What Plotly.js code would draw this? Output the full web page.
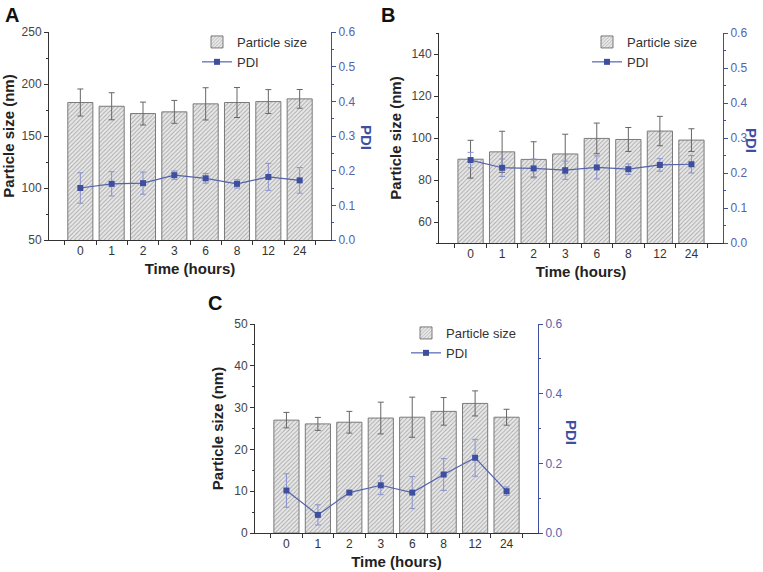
<!DOCTYPE html>
<html>
<head>
<meta charset="utf-8">
<script src="https://cdn.plot.ly/plotly-3.0.1.min.js"></script>
<style>
  body { margin: 0; background: #fff; }
  #chart { width: 763px; height: 572px; }
</style>
</head>
<body>
<div id="chart"></div>
<script>
// time points (hours)
const times = ["0", "1", "2", "3", "6", "8", "12", "24"];

// panel A
const sizeA = [182.2, 178.6, 171.6, 173.2, 180.9, 182.2, 183.1, 185.7];
const sizeErrA = [13, 13, 11, 11, 15.5, 14.4, 11.5, 9];
const pdiA = [0.150, 0.162, 0.164, 0.187, 0.178, 0.162, 0.182, 0.172];
const pdiErrA = [0.044, 0.035, 0.032, 0.012, 0.014, 0.012, 0.039, 0.037];

// panel B
const sizeB = [89.9, 93.4, 89.8, 92.4, 99.8, 99.3, 103.3, 99.0];
const sizeErrB = [9, 9.8, 8.4, 9.4, 7.3, 5.7, 7, 5.4];
const pdiB = [0.237, 0.215, 0.213, 0.208, 0.216, 0.211, 0.223, 0.225];
const pdiErrB = [0.022, 0.025, 0.027, 0.026, 0.033, 0.015, 0.018, 0.025];

// panel C
const sizeC = [27.0, 26.1, 26.5, 27.5, 27.7, 29.1, 31.0, 27.7];
const sizeErrC = [1.85, 1.55, 2.6, 3.8, 4.8, 3.3, 3.0, 1.9];
const pdiC = [0.122, 0.052, 0.116, 0.137, 0.116, 0.168, 0.216, 0.120];
const pdiErrC = [0.048, 0.029, 0.006, 0.027, 0.046, 0.046, 0.053, 0.012];

const W = 763, H = 572;
const blue = "#3f4fa0";
const font = "Liberation Sans, Arial, sans-serif";

const barTrace = (y, err, xa, ya, legend) => ({
	type: "bar",
	x: times,
	y: y,
	xaxis: xa,
	yaxis: ya,
	name: "Particle size",
	legend: legend,
	width: 0.8,
	marker: {
		color: "#e4e4e4",
		line: { color: "#7a7a7a", width: 1 },
		pattern: { shape: "/", fgcolor: "#a8a8a8", bgcolor: "#e8e8e8", size: 3, solidity: 0.3 }
	},
	error_y: { type: "data", array: err, color: "#666", thickness: 1, width: 3 }
});

const pdiTrace = (y, err, xa, ya, legend) => ({
	type: "scatter",
	mode: "lines+markers",
	x: times,
	y: y,
	xaxis: xa,
	yaxis: ya,
	name: "PDI",
	legend: legend,
	line: { color: "#5563ad", width: 1.2 },
	marker: { symbol: "square", size: 6, color: blue },
	error_y: { type: "data", array: err, color: "#8a92cc", thickness: 1, width: 3 }
});

let traces = [
	barTrace(sizeA, sizeErrA, "x", "y", "legend"),
	pdiTrace(pdiA, pdiErrA, "x", "y2", "legend"),
	barTrace(sizeB, sizeErrB, "x2", "y3", "legend2"),
	pdiTrace(pdiB, pdiErrB, "x2", "y4", "legend2"),
	barTrace(sizeC, sizeErrC, "x3", "y5", "legend3"),
	pdiTrace(pdiC, pdiErrC, "x3", "y6", "legend3")
];

// pixel boxes -> paper domains
const dx = (a, b) => [a / W, b / W];
const dy = (top, bottom) => [1 - bottom / H, 1 - top / H];

const xAxis = (domain, anchor) => ({
	type: "category",
	domain: domain,
	anchor: anchor,
	range: [-1, 8],
	tickson: "boundaries",
	ticks: "outside",
	ticklen: 4,
	tickcolor: "#333",
	showline: true,
	linecolor: "#333",
	linewidth: 1,
	showgrid: false,
	zeroline: false,
	tickfont: { size: 12, color: "#333" },
	title: { text: "<b>Time (hours)</b>", font: { size: 15, color: "#222" }, standoff: 6 }
});

const leftAxis = (domain, anchor, range, dtick, minor, tickvals) => ({
	domain: domain,
	anchor: anchor,
	range: range,
	dtick: dtick,
	tickvals: tickvals,
	ticks: "outside",
	ticklen: 4,
	tickcolor: "#333",
	minor: { dtick: minor, ticks: "outside", ticklen: 2, tickcolor: "#333" },
	showline: true,
	linecolor: "#333",
	linewidth: 1,
	showgrid: false,
	zeroline: false,
	tickfont: { size: 12, color: "#444" },
	title: { text: "<b>Particle size (nm)</b>", font: { size: 15, color: "#222" }, standoff: 6 }
});

const rightAxis = (overlay, anchor, dtick, minor) => ({
	overlaying: overlay,
	anchor: anchor,
	side: "right",
	range: [0, 0.6],
	dtick: dtick,
	tickformat: ".1f",
	ticks: "outside",
	ticklen: 4,
	tickcolor: blue,
	minor: { dtick: minor, ticks: "outside", ticklen: 2, tickcolor: blue },
	showline: true,
	linecolor: blue,
	linewidth: 1,
	showgrid: false,
	zeroline: false,
	tickfont: { size: 12, color: "#5563ad" }
});

const legendAt = (xpx, ypx) => ({
	x: xpx / W,
	y: 1 - ypx / H,
	xanchor: "left",
	yanchor: "top",
	bgcolor: "rgba(0,0,0,0)",
	font: { family: font, size: 13, color: "#333" },
	traceorder: "normal",
	itemwidth: 30
});

const panelLabel = (text, xpx, ypx) => ({
	text: "<b>" + text + "</b>",
	xref: "paper", yref: "paper",
	x: xpx / W, y: 1 - ypx / H,
	xanchor: "left", yanchor: "top",
	showarrow: false,
	font: { size: 20, color: "#111" }
});

const pdiTitle = (xpx, ypx) => ({
	text: "<b>PDI</b>",
	xref: "paper", yref: "paper",
	x: xpx / W, y: 1 - ypx / H,
	xanchor: "center", yanchor: "middle",
	textangle: 90,
	showarrow: false,
	font: { size: 15, color: blue }
});

let layout = {
	width: W,
	height: H,
	margin: { l: 0, r: 0, t: 0, b: 0 },
	paper_bgcolor: "white",
	plot_bgcolor: "white",
	font: { family: font, color: "#333" },
	bargap: 0.2,
	xaxis: xAxis(dx(49, 331), "y"),
	yaxis: leftAxis(dy(32, 240), "x", [50, 250], 50, 25),
	yaxis2: rightAxis("y", "x", 0.1, 0.05),
	xaxis2: xAxis(dx(439, 723), "y3"),
	yaxis3: leftAxis(dy(33, 243), "x2", [50, 150], null, 10, [60, 80, 100, 120, 140]),
	yaxis4: rightAxis("y3", "x2", 0.1, 0.05),
	xaxis3: xAxis(dx(255, 538), "y5"),
	yaxis5: leftAxis(dy(324, 533), "x3", [0, 50], 10, 5),
	yaxis6: rightAxis("y5", "x3", 0.2, 0.1),
	legend: legendAt(197, 27),
	legend2: legendAt(587, 27),
	legend3: legendAt(406, 318),
	annotations: [
		panelLabel("A", 3, 2),
		panelLabel("B", 379, 2),
		panelLabel("C", 206, 290),
		pdiTitle(366, 137),
		pdiTitle(752, 140),
		pdiTitle(572, 432)
	]
};

Plotly.newPlot("chart", traces, layout, { displayModeBar: false });
</script>
</body>
</html>
